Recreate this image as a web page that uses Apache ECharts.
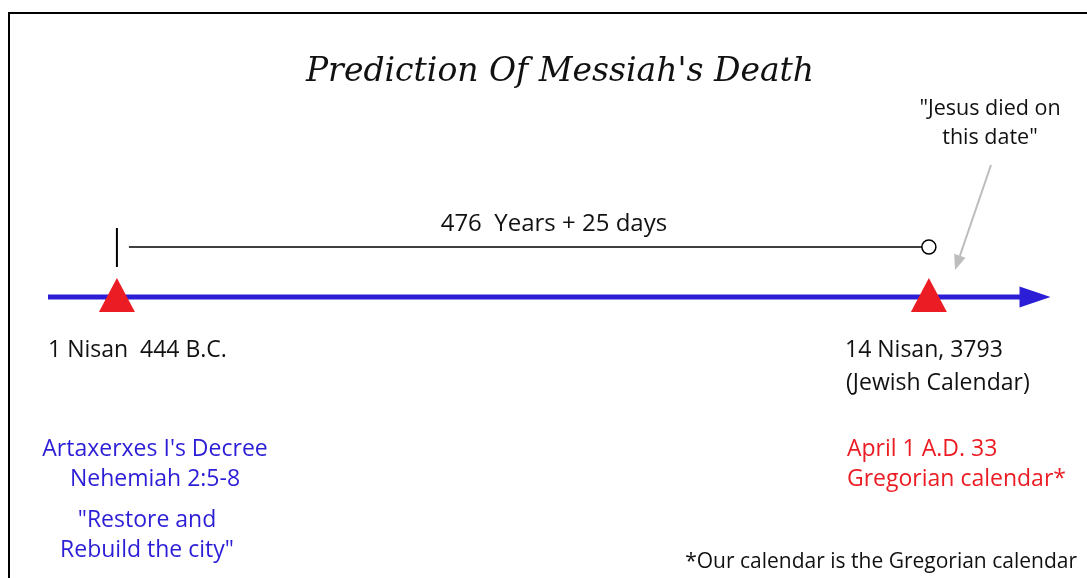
<!DOCTYPE html>
<html lang="en">
  <head>
    <meta charset="UTF-8" />
    <title>Prediction Of Messiah's Death</title>
    <style>
      html, body { margin: 0; padding: 0; background: #fff; }
      #main { width: 1087px; height: 578px; }
    </style>
  </head>
  <body>
    <script src="https://cdn.jsdelivr.net/npm/echarts@6/dist/echarts.min.js"></script>
    <div id="main"></div>
    <script>
      // timeline data, in years counted from the decree
      const eventYears = [0, 476]
      const spanLabel = '476  Years + 25 days'
      const startLabels = ['1 Nisan  444 B.C.']
      const endLabels = ['14 Nisan, 3793', '(Jewish Calendar)']
      const decreeLines = ["Artaxerxes I's Decree", 'Nehemiah 2:5-8']
      const quoteLines = ['"Restore and', 'Rebuild the city"']
      const gregorianLines = ['April 1 A.D. 33', 'Gregorian calendar*']
      const noteLines = ['"Jesus died on', 'this date"']
      const footnote = '*Our calendar is the Gregorian calendar'
      const axisRange = [-40.4, 547]

      const BLUE = '#2c1ed6'
      const RED = '#ec1c24'
      const FONT = 'Open Sans'

      const chart = echarts.init(document.getElementById('main'))

      // px per year, used for small offsets only
      const pxPerYear = 1002 / (axisRange[1] - axisRange[0])
      const arrowEnd = axisRange[1] - 15 / pxPerYear
      const bracketStart = eventYears[0] + 12 / pxPerYear

      function txt(text, x, y, size, color, align) {
        return {
          type: 'text',
          x, y,
          style: {
            text,
            fill: color || '#111',
            font: (size || 23) + 'px "' + FONT + '"',
            align: align || 'left',
            verticalAlign: 'middle'
          }
        }
      }

      chart.setOption({
        animation: false,
        grid: { left: 48, width: 1002, top: 0, height: 578 },
        xAxis: { type: 'value', min: axisRange[0], max: axisRange[1], show: false },
        // level 0 = the timeline, levels go up in pixels
        yAxis: { type: 'value', min: -281, max: 297, show: false },
        series: [
          {
            type: 'line',
            data: [[axisRange[0], 0], [arrowEnd, 0]],
            symbol: 'none',
            lineStyle: { color: BLUE, width: 5 },
            silent: true
          },
          {
            type: 'scatter',
            data: [[arrowEnd, 0]],
            symbol: 'triangle',
            symbolSize: [21, 31],
            symbolRotate: -90,
            itemStyle: { color: BLUE, opacity: 1 }
          },
          {
            // start tick
            type: 'line',
            data: [[eventYears[0], 30], [eventYears[0], 69]],
            symbol: 'none',
            lineStyle: { color: '#000', width: 2 }
          },
          {
            // span bracket ending in open circle
            type: 'line',
            data: [[bracketStart, 50], [eventYears[1], 50]],
            showSymbol: true,
            symbol: (v, p) => (p.dataIndex === 1 ? 'circle' : 'none'),
            symbolSize: 14,
            itemStyle: { color: '#fff', borderColor: '#000', borderWidth: 1.5 },
            lineStyle: { color: '#000', width: 1.5 },
            z: 3
          },
          {
            type: 'scatter',
            data: eventYears.map(y => [y, 0]),
            symbol: 'triangle',
            symbolSize: [36, 34],
            symbolOffset: [0, -2],
            itemStyle: { color: RED, opacity: 1 },
            z: 4
          }
        ]
      })

      const [, timelineY] = chart.convertToPixel('grid', [0, 0])
      const [startX] = chart.convertToPixel('grid', [eventYears[0], 0])
      const [endX] = chart.convertToPixel('grid', [eventYears[1], 0])
      const [, spanY] = chart.convertToPixel('grid', [0, 50])

      // grey pointer from note to the end date
      const tip = [955, 270], tail = [991, 165]
      const dx = tip[0] - tail[0], dy = tip[1] - tail[1]
      const len = Math.hypot(dx, dy)
      const ux = dx / len, uy = dy / len
      const base = [tip[0] - ux * 15, tip[1] - uy * 15]
      const px = -uy * 6, py = ux * 6

      chart.setOption({
        graphic: {
          elements: [
            {
              type: 'rect',
              shape: { x: 9, y: 13, width: 1100, height: 600 },
              style: { fill: 'none', stroke: '#000', lineWidth: 2 }
            },
            {
              type: 'text',
              x: 560, y: 72,
              style: {
                text: "Prediction Of Messiah's Death",
                fill: '#111',
                font: 'italic 33px "DejaVu Serif"',
                align: 'center',
                verticalAlign: 'middle'
              }
            },
            txt(spanLabel, (startX + endX) / 2 + 31, spanY - 23, 24, '#111', 'center'),
            txt(startLabels[0], 48, timelineY + 53),
            txt(endLabels[0], 845, timelineY + 53),
            txt(endLabels[1], 846, timelineY + 86),
            txt(decreeLines[0], 155, 449, 23, BLUE, 'center'),
            txt(decreeLines[1], 155, 479, 23, BLUE, 'center'),
            txt(quoteLines[0], 147, 520, 23, BLUE, 'center'),
            txt(quoteLines[1], 147, 550, 23, BLUE, 'center'),
            txt(gregorianLines[0], 847, 449, 23, RED),
            txt(gregorianLines[1], 847, 479, 23, RED),
            txt(noteLines[0], 990, 109, 21.5, '#111', 'center'),
            txt(noteLines[1], 990, 138, 21.5, '#111', 'center'),
            txt(footnote, 1077, 562, 21, '#111', 'right'),
            {
              type: 'line',
              shape: { x1: tail[0], y1: tail[1], x2: base[0], y2: base[1] },
              style: { stroke: '#bdbdbd', lineWidth: 2 }
            },
            {
              type: 'polygon',
              shape: { points: [tip, [base[0] + px, base[1] + py], [base[0] - px, base[1] - py]] },
              style: { fill: '#bdbdbd' }
            }
          ]
        }
      })
    </script>
  </body>
</html>
